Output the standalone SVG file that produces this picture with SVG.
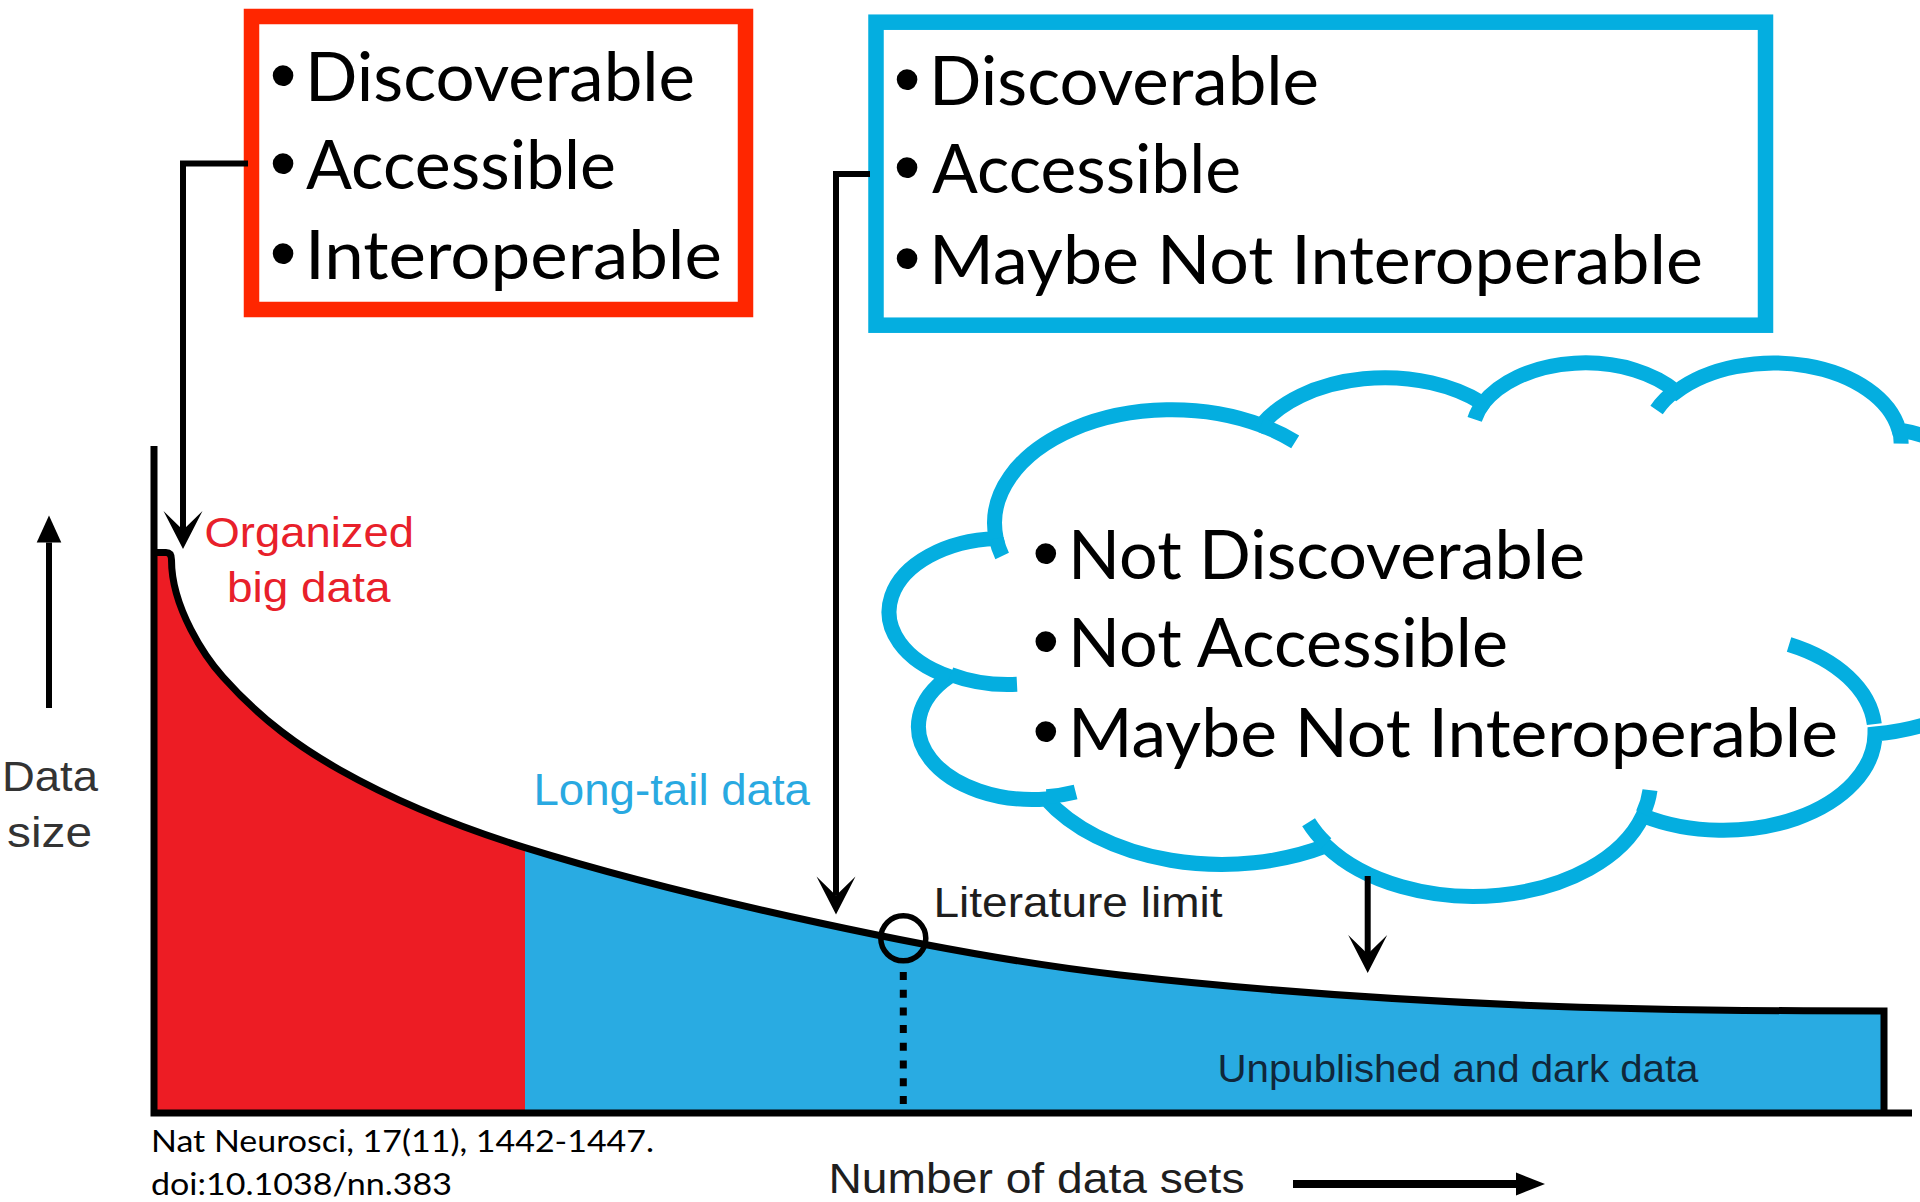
<svg xmlns="http://www.w3.org/2000/svg" width="1920" height="1202" viewBox="0 0 1920 1202">
<defs>
<style>
.box{fill:#fff;stroke-width:15.5}
.t{font-family:Lato,"Open Sans","Noto Sans",sans-serif;font-size:67px;fill:#000}
.bul{font-family:"Liberation Sans",Arial,sans-serif;font-size:76px;fill:#000;text-anchor:middle}
.h{font-family:"Liberation Sans",Arial,Helvetica,sans-serif}
.cite{font-family:Lato,"Open Sans",sans-serif;font-size:30px;fill:#000}
.conn{fill:none;stroke:#000;stroke-width:6}
.cl{fill:none;stroke:#04AEE0;stroke-width:15}
</style>
<marker id="stealth" markerUnits="userSpaceOnUse" orient="auto" overflow="visible" refX="0" refY="0" markerWidth="40" markerHeight="40">
<path d="M19 0 L-19 -19.5 L0 0 L-19 19.5 Z" fill="#000"/>
</marker>
<marker id="triY" markerUnits="userSpaceOnUse" orient="auto" overflow="visible" refX="0" refY="0" markerWidth="30" markerHeight="30">
<path d="M27 0 L0 -12.3 L0 12.3 Z" fill="#000"/>
</marker>
<marker id="triX" markerUnits="userSpaceOnUse" orient="auto" overflow="visible" refX="0" refY="0" markerWidth="30" markerHeight="30">
<path d="M29 0 L0 -11.5 L0 11.5 Z" fill="#000"/>
</marker>
</defs>
<rect width="1920" height="1202" fill="#fff"/>

<g id="chart">
<path d="M154 1113 L154 552.5 L166 552.5 Q171.5 552.5 171.5 560 C171.5 608 205.8 657.8 223 677 C262 720.7 301 748 340 770 C401.7 804.8 463.3 828.5 525 847.6 L525 1113 Z" fill="#ED1C24"/>
<path d="M525 847.6 C623.3 878.1 721.7 901.7 820 923 C920 944.7 1020 963.7 1120 975 C1253.3 990.1 1386.7 999.4 1520 1005 C1641.3 1010.1 1762.7 1011 1884 1011 L1884 1113 L525 1113 Z" fill="#29ABE2"/>
<path d="M154 552.5 L166 552.5 Q171.5 552.5 171.5 560 C171.5 608 205.8 657.8 223 677 C262 720.7 301 748 340 770 C401.7 804.8 463.3 828.5 525 847.6 C623.3 878.1 721.7 901.7 820 923 C920 944.7 1020 963.7 1120 975 C1253.3 990.1 1386.7 999.4 1520 1005 C1641.3 1010.1 1762.7 1011 1884 1011 L1884 1113" fill="none" stroke="#000" stroke-width="7"/>
<path d="M154 446 V1116.5 M150.5 1113 H1912" fill="none" stroke="#000" stroke-width="7"/>
<circle cx="903.3" cy="938.3" r="22.5" fill="none" stroke="#000" stroke-width="5.5"/>
<path d="M903.3 972 V1104" stroke="#000" stroke-width="7" stroke-dasharray="8 9.7"/>
</g>

<g id="axis-arrows">
<path d="M49 708 V542.5" stroke="#000" stroke-width="6" marker-end="url(#triY)"/>
<path d="M1293 1184 H1516" stroke="#000" stroke-width="8" marker-end="url(#triX)"/>
</g>

<g id="chart-labels" class="h">
<text x="204.5" y="546.7" font-size="43" fill="#E8202A" textLength="209.5" lengthAdjust="spacingAndGlyphs">Organized</text>
<text x="227" y="601.7" font-size="43" fill="#E8202A" textLength="163.5" lengthAdjust="spacingAndGlyphs">big data</text>
<text x="533.5" y="805" font-size="44" fill="#29A9E1" textLength="276.5" lengthAdjust="spacingAndGlyphs">Long-tail data</text>
<text x="2" y="791" font-size="43" fill="#333" textLength="96" lengthAdjust="spacingAndGlyphs">Data</text>
<text x="7" y="847" font-size="43" fill="#333" textLength="85" lengthAdjust="spacingAndGlyphs">size</text>
<text x="933.5" y="916.7" font-size="42" fill="#1e1e1e" textLength="289" lengthAdjust="spacingAndGlyphs">Literature limit</text>
<text x="1217.5" y="1081.7" font-size="39" fill="#10273A" textLength="481" lengthAdjust="spacingAndGlyphs">Unpublished and dark data</text>
<text x="828.5" y="1193.3" font-size="42" fill="#1e1e1e" textLength="416" lengthAdjust="spacingAndGlyphs">Number of data sets</text>
</g>

<g id="citation">
<text class="cite" x="151" y="1151.7" textLength="503" lengthAdjust="spacingAndGlyphs">Nat Neurosci, 17(11), 1442-1447.</text>
<text class="cite" x="151" y="1195" textLength="301" lengthAdjust="spacingAndGlyphs">doi:10.1038/nn.383</text>
</g>

<g id="box-red">
<rect class="box" x="251.5" y="16.5" width="494" height="293" stroke="#FF2600"/>
<text class="bul" x="283" y="101.4">•</text>
<text class="t" x="305" y="101.4" textLength="390" lengthAdjust="spacingAndGlyphs">Discoverable</text>
<text class="bul" x="283" y="188.7">•</text>
<text class="t" x="306" y="188.7" textLength="310" lengthAdjust="spacingAndGlyphs">Accessible</text>
<text class="bul" x="283" y="278.6">•</text>
<text class="t" x="305" y="278.6" textLength="417" lengthAdjust="spacingAndGlyphs">Interoperable</text>
</g>

<g id="box-blue">
<rect class="box" x="876" y="22.2" width="889.5" height="303" stroke="#04AEE0"/>
<text class="bul" x="907" y="105">•</text>
<text class="t" x="929" y="105" textLength="390" lengthAdjust="spacingAndGlyphs">Discoverable</text>
<text class="bul" x="907" y="193">•</text>
<text class="t" x="932" y="193" textLength="309" lengthAdjust="spacingAndGlyphs">Accessible</text>
<text class="bul" x="907" y="284">•</text>
<text class="t" x="929" y="284" textLength="774" lengthAdjust="spacingAndGlyphs">Maybe Not Interoperable</text>
</g>

<g id="cloud">
<g transform="matrix(0.026229 0 0 0.012346 893.9 361.1)">
<path d="M3900 14370 A6753 9190 0 0 1 14005 5202 A5333 7267 0 0 1 22456 3432 A4365 5945 0 0 1 29833 2481 A4857 6595 0 0 1 38318 5576 A5333 7273 0 0 1 41818 15460 A6775 9220 0 0 1 37404 30203 A5785 7867 0 0 1 28556 36813 A6752 9215 0 0 1 16480 39264 A7720 10543 0 0 1 5805 35470 A4360 5918 0 0 1 2113 25548 A4345 5945 0 0 1 3900 14370 Z" fill="#fff" stroke="#04AEE0" stroke-width="15" vector-effect="non-scaling-stroke"/>
<path class="cl" vector-effect="non-scaling-stroke" d="M4693 26177 A4345 5945 0 0 1 2160 25380 M6928 34899 A4360 5918 0 0 1 5820 35281 M16478 39090 A6752 9215 0 0 1 15810 37350 M28827 34751 A6752 9215 0 0 1 28560 36660 M34129 22954 A5785 7867 0 0 1 37379 29400 M38324 5426 A4857 6595 0 0 1 38400 6690 M29078 3952 A4857 6595 0 0 1 29820 2340 M22141 4720 A4365 5945 0 0 1 22500 3330 M14000 5192 A6753 9190 0 0 1 15300 6540 M4127 15789 A6753 9190 0 0 1 3900 14370"/>
</g>
<text class="bul" x="1045.7" y="578.6">•</text>
<text class="t" x="1068" y="578.6" textLength="517" lengthAdjust="spacingAndGlyphs">Not Discoverable</text>
<text class="bul" x="1045.7" y="667.4">•</text>
<text class="t" x="1068" y="667.4" textLength="440" lengthAdjust="spacingAndGlyphs">Not Accessible</text>
<text class="bul" x="1045.7" y="757.3">•</text>
<text class="t" x="1068" y="757.3" textLength="770" lengthAdjust="spacingAndGlyphs">Maybe Not Interoperable</text>
</g>

<g id="connectors" class="conn">
<path d="M248 163.4 H183 V530" marker-end="url(#stealth)"/>
<path d="M870 174 H836 V895.5" marker-end="url(#stealth)"/>
<path d="M1367.7 876 V954" marker-end="url(#stealth)"/>
</g>
</svg>
